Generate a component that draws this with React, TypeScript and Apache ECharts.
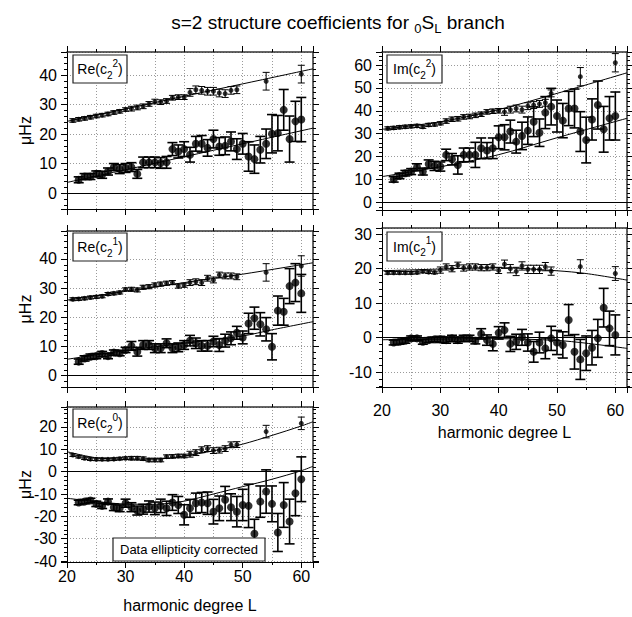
import React, { useEffect, useRef } from "react";
import * as echarts from "echarts";

const FONT = '"Liberation Sans", Arial, Helvetica, sans-serif';

// harmonic degrees
const L_UP = [21, 22, 23, 24, 25, 26, 27, 28, 29, 30, 31, 32, 33, 34, 35, 36, 37, 38, 39, 40, 41, 42, 43, 44, 45, 46, 47, 48, 49, 54, 60];
const L_LOW = [22, 23, 24, 25, 26, 27, 28, 29, 30, 31, 32, 33, 34, 35, 36, 37, 38, 39, 40, 41, 42, 43, 44, 45, 46, 47, 48, 49, 50, 51, 52, 53, 54, 55, 56, 57, 58, 59, 60];

// Re(c2^2)
const RE22_UP = [24.6, 25.0, 25.3, 25.7, 26.1, 26.4, 26.8, 27.3, 27.7, 28.3, 28.6, 29.0, 29.4, 30.2, 31.0, 30.8, 31.2, 32.3, 32.5, 32.5, 34.1, 35.0, 34.8, 34.5, 34.5, 33.9, 33.7, 34.8, 35.0, 37.9, 40.3];
const RE22_UP_ERR = [0.6, 0.6, 0.6, 0.6, 0.6, 0.6, 0.6, 0.6, 0.6, 0.6, 0.8, 0.8, 0.8, 0.8, 0.8, 0.8, 0.8, 0.8, 0.8, 0.8, 1.3, 1.3, 1.3, 1.3, 1.3, 1.3, 1.3, 1.3, 1.3, 3.0, 3.0];
const RE22_LOW = [4.5, 5.6, 5.6, 6.5, 6.2, 7.3, 8.8, 8.1, 8.5, 8.8, 6.5, 10.4, 10.4, 10.4, 10.2, 10.4, 14.9, 14.1, 14.9, 13.0, 16.7, 16.7, 15.3, 18.3, 15.8, 16.0, 17.5, 14.9, 16.7, 12.4, 11.5, 14.7, 16.7, 20.1, 20.3, 28.2, 18.3, 24.3, 24.9];
const RE22_LOW_ERR = [1.0, 1.0, 1.0, 1.0, 1.2, 1.2, 1.2, 1.5, 1.5, 1.5, 1.5, 1.8, 1.8, 1.8, 1.8, 2.0, 2.2, 2.2, 2.5, 2.5, 2.5, 2.8, 2.8, 3.0, 3.0, 3.0, 3.2, 3.5, 3.5, 5.0, 4.8, 4.5, 5.0, 6.5, 6.0, 6.9, 7.8, 6.8, 7.5];
const RE22_TH_L = [20, 30, 40, 50, 62];
const RE22_TH_UP = [24.3, 28.5, 32.8, 37.0, 42.1];
const RE22_TH_LOW = [3.6, 7.9, 12.3, 16.7, 22.0];

// Re(c2^1)
const RE21_UP = [26.2, 26.3, 26.5, 26.8, 27.0, 27.2, 28.0, 28.2, 28.5, 29.6, 29.6, 29.4, 30.3, 30.5, 31.1, 31.4, 31.7, 31.9, 30.7, 31.0, 31.9, 32.2, 31.9, 33.4, 32.8, 34.5, 34.2, 34.2, 33.9, 35.4, 37.6];
const RE21_UP_ERR = [0.5, 0.5, 0.5, 0.5, 0.5, 0.5, 0.5, 0.5, 0.5, 0.5, 0.7, 0.7, 0.7, 0.7, 0.7, 0.7, 0.7, 0.7, 0.7, 0.7, 1.0, 1.0, 1.0, 1.0, 1.0, 1.0, 1.0, 1.0, 1.0, 3.0, 3.5];
const RE21_LOW = [4.8, 5.9, 6.5, 6.7, 7.4, 6.7, 7.9, 7.7, 8.8, 10.2, 8.2, 10.5, 10.5, 9.4, 9.4, 11.1, 9.4, 9.7, 10.5, 12.0, 11.1, 10.2, 10.2, 11.7, 10.5, 12.0, 12.8, 14.7, 13.1, 17.9, 19.7, 17.6, 15.9, 9.9, 22.3, 21.9, 30.7, 31.9, 28.2];
const RE21_LOW_ERR = [0.9, 0.9, 0.9, 0.9, 0.9, 0.9, 0.9, 0.9, 0.9, 1.5, 1.5, 1.5, 1.5, 1.5, 1.5, 1.5, 1.5, 1.5, 1.5, 1.8, 1.8, 1.8, 1.8, 1.8, 2.2, 2.2, 2.2, 2.2, 2.2, 3.5, 3.8, 4.0, 4.0, 4.5, 5.0, 4.6, 6.0, 6.5, 6.5];
const RE21_TH_UP_L = [20, 30, 40, 50, 62];
const RE21_TH_UP = [25.9, 28.9, 31.9, 34.8, 38.7];
const RE21_TH_LOW_L = [20, 30, 40, 50, 55, 62];
const RE21_TH_LOW = [5.6, 8.6, 11.1, 13.6, 15.7, 18.5];

// Re(c2^0)
const RE20_UP = [7.4, 6.7, 6.0, 5.6, 5.5, 5.5, 5.5, 5.6, 5.8, 6.0, 6.0, 6.0, 5.8, 5.2, 5.2, 5.2, 6.7, 6.8, 7.0, 7.0, 7.8, 8.5, 9.8, 10.3, 9.4, 9.6, 10.3, 12.0, 12.1, 17.9, 21.6];
const RE20_UP_ERR = [0.6, 0.6, 0.6, 0.6, 0.6, 0.6, 0.6, 0.6, 0.6, 0.6, 0.8, 0.8, 0.8, 0.8, 0.8, 0.8, 0.8, 0.8, 0.8, 0.8, 1.3, 1.3, 1.3, 1.3, 1.3, 1.3, 1.3, 1.3, 1.3, 2.8, 2.8];
const RE20_LOW = [-13.8, -13.4, -12.9, -14.4, -15.3, -13.4, -15.9, -16.4, -14.1, -15.9, -17.4, -16.8, -15.6, -16.4, -15.3, -16.4, -13.8, -14.9, -19.3, -16.4, -14.1, -13.8, -14.1, -17.9, -16.4, -12.6, -15.9, -17.9, -14.9, -15.3, -27.8, -13.4, -8.9, -14.4, -27.2, -14.9, -22.3, -9.7, -3.4];
const RE20_LOW_ERR = [1.0, 1.0, 1.0, 1.2, 1.2, 1.2, 1.5, 1.5, 1.8, 2.0, 2.0, 2.2, 2.5, 2.8, 3.0, 3.2, 3.5, 3.8, 4.5, 4.0, 4.5, 4.5, 5.0, 5.5, 5.5, 6.0, 6.0, 6.8, 7.0, 9.7, 6.5, 7.0, 9.7, 8.0, 8.5, 10.0, 10.0, 10.0, 10.0];
const RE20_TH_L = [20, 25, 30, 35, 40, 45, 50, 55, 60, 62];
const RE20_TH_UP = [8.9, 6.2, 5.6, 5.6, 7.0, 9.3, 12.3, 16.2, 20.4, 22.3];
const RE20_TH_LOW = [-11.9, -13.4, -14.5, -14.6, -13.2, -10.0, -6.7, -3.4, 0.4, 2.4];

// Im(c2^2)
const IM22_UP = [32.3, 32.5, 32.8, 33.0, 33.2, 33.4, 33.0, 33.8, 34.0, 34.5, 35.5, 36.3, 36.5, 37.3, 37.5, 38.0, 38.5, 39.5, 39.8, 40.0, 39.5, 40.5, 41.0, 40.5, 42.0, 42.5, 43.0, 43.5, 47.6, 54.9, 61.0];
const IM22_UP_ERR = [0.7, 0.7, 0.7, 0.7, 0.7, 0.7, 0.7, 0.7, 0.7, 0.7, 1.0, 1.0, 1.0, 1.0, 1.0, 1.0, 1.0, 1.0, 1.0, 1.0, 1.5, 1.5, 1.5, 1.5, 1.5, 1.5, 1.5, 1.5, 1.5, 4.0, 4.0];
const IM22_LOW = [10.0, 11.5, 12.7, 13.4, 15.3, 13.4, 16.7, 15.9, 15.6, 20.7, 18.8, 16.3, 20.7, 20.7, 20.7, 23.6, 22.6, 23.6, 28.4, 28.4, 30.9, 26.5, 29.0, 31.3, 35.2, 30.4, 39.2, 41.8, 37.7, 35.7, 41.0, 41.0, 30.9, 27.2, 36.2, 42.5, 31.9, 36.7, 37.7];
const IM22_LOW_ERR = [1.2, 1.2, 1.2, 1.3, 1.5, 1.5, 1.8, 2.0, 2.0, 2.5, 2.5, 4.0, 3.0, 3.0, 5.5, 4.5, 3.5, 4.5, 5.0, 5.5, 5.0, 5.0, 6.0, 6.0, 6.5, 6.0, 7.0, 8.0, 7.0, 7.5, 7.5, 8.5, 8.7, 10.0, 9.0, 10.5, 10.0, 9.5, 10.5];
const IM22_TH_L = [20, 30, 40, 50, 62];
const IM22_TH_UP = [31.9, 35.2, 40.5, 47.6, 56.6];
const IM22_TH_LOW = [11.2, 15.5, 20.8, 28.2, 36.7];

// Im(c2^1)
const IM21_UP = [18.8, 18.8, 18.8, 18.8, 18.8, 18.9, 19.2, 19.0, 18.9, 19.6, 20.5, 20.0, 21.0, 20.2, 20.5, 20.5, 20.3, 20.3, 20.5, 19.5, 21.3, 20.0, 19.2, 20.8, 19.8, 19.8, 19.8, 20.6, 19.3, 20.6, 18.6];
const IM21_UP_ERR = [0.4, 0.4, 0.4, 0.4, 0.4, 0.4, 0.4, 0.4, 0.4, 0.9, 0.9, 0.9, 0.9, 0.9, 0.9, 0.9, 0.9, 0.9, 0.9, 0.9, 1.2, 1.2, 1.2, 1.2, 1.2, 1.2, 1.2, 1.2, 1.2, 2.0, 2.0];
const IM21_LOW = [-1.4, -1.2, -0.9, -0.2, -0.2, -1.2, -0.7, -0.5, -0.5, -0.7, -0.2, -0.7, -0.2, -0.2, -0.9, 1.1, -0.7, -1.8, 1.4, 2.2, -1.8, -1.2, 0.1, -1.4, -4.1, -1.4, -3.1, -0.2, -1.4, -2.1, 5.1, -4.1, -6.3, -4.5, -2.9, -0.2, 8.7, 2.7, 0.8];
const IM21_LOW_ERR = [0.7, 0.7, 0.7, 0.7, 0.7, 0.7, 0.7, 0.7, 0.9, 0.9, 0.9, 0.9, 0.9, 0.9, 0.9, 1.5, 1.5, 2.0, 1.8, 2.1, 2.2, 2.2, 2.3, 2.5, 3.0, 3.0, 3.0, 3.5, 3.5, 3.8, 4.5, 5.0, 5.8, 5.0, 5.0, 5.5, 5.6, 5.0, 5.8];
const IM21_TH_L = [20, 30, 40, 50, 55, 62];
const IM21_TH_UP = [19.4, 19.9, 20.3, 19.4, 18.6, 16.7];
const IM21_TH_LOW = [-0.6, -0.4, -0.3, -0.8, -1.6, -3.1];

// y ranges per panel
const Y_RANGES = [
  [-5.4, 47.8],
  [-3.9, 49.6],
  [-40.4, 28.9],
  [-3.4, 65.7],
  [-14.3, 31.8],
];

const PANEL_DATA = [
  { up: RE22_UP, upErr: RE22_UP_ERR, low: RE22_LOW, lowErr: RE22_LOW_ERR, thUpL: RE22_TH_L, thUp: RE22_TH_UP, thLowL: RE22_TH_L, thLow: RE22_TH_LOW, label: "Re", m: "2" },
  { up: RE21_UP, upErr: RE21_UP_ERR, low: RE21_LOW, lowErr: RE21_LOW_ERR, thUpL: RE21_TH_UP_L, thUp: RE21_TH_UP, thLowL: RE21_TH_LOW_L, thLow: RE21_TH_LOW, label: "Re", m: "1" },
  { up: RE20_UP, upErr: RE20_UP_ERR, low: RE20_LOW, lowErr: RE20_LOW_ERR, thUpL: RE20_TH_L, thUp: RE20_TH_UP, thLowL: RE20_TH_L, thLow: RE20_TH_LOW, label: "Re", m: "0" },
  { up: IM22_UP, upErr: IM22_UP_ERR, low: IM22_LOW, lowErr: IM22_LOW_ERR, thUpL: IM22_TH_L, thUp: IM22_TH_UP, thLowL: IM22_TH_L, thLow: IM22_TH_LOW, label: "Im", m: "2" },
  { up: IM21_UP, upErr: IM21_UP_ERR, low: IM21_LOW, lowErr: IM21_LOW_ERR, thUpL: IM21_TH_L, thUp: IM21_TH_UP, thLowL: IM21_TH_L, thLow: IM21_TH_LOW, label: "Im", m: "1" },
];

// layout (pixels)
const GRIDS = [
  { left: 67, top: 52, width: 246, height: 157 },
  { left: 67, top: 231, width: 246, height: 156 },
  { left: 67, top: 407, width: 246, height: 155 },
  { left: 382, top: 52, width: 245, height: 158 },
  { left: 382, top: 228, width: 245, height: 159 },
];
const LAYOUT = [
  { showX: false, yName: true, box: [73, 55, 54, 28] },
  { showX: false, yName: true, box: [73, 233, 54, 28] },
  { showX: true, yName: true, box: [73, 409, 54, 28], labelMargin: 6, nameGap: 35 },
  { showX: false, yName: false, box: [387, 55, 55, 28] },
  { showX: true, yName: false, box: [387, 232, 55, 29], labelMargin: 15, nameGap: 37 },
];

const GRID_LINE = { color: "#9a9a9a", width: 1, type: [1, 2] as any };

function errItem(cap: number, lw: number) {
  return (params: any, api: any) => {
    const x = api.value(0);
    const lo = api.value(1);
    const hi = api.value(2);
    const p1 = api.coord([x, hi]);
    const p2 = api.coord([x, lo]);
    const s = { stroke: "#000", lineWidth: lw };
    return {
      type: "group",
      children: [
        { type: "line", shape: { x1: p1[0], y1: p1[1], x2: p2[0], y2: p2[1] }, style: s },
        { type: "line", shape: { x1: p1[0] - cap / 2, y1: p1[1], x2: p1[0] + cap / 2, y2: p1[1] }, style: s },
        { type: "line", shape: { x1: p2[0] - cap / 2, y1: p2[1], x2: p2[0] + cap / 2, y2: p2[1] }, style: s },
      ],
    };
  };
}

function buildOption() {
  const xAxis: any[] = [];
  const yAxis: any[] = [];
  const series: any[] = [];
  const graphic: any[] = [];

  GRIDS.forEach((g, i) => {
    const lay = LAYOUT[i];
    const [ymin, ymax] = Y_RANGES[i];
    const tick = { show: true, length: 6, lineStyle: { color: "#000", width: 1 } };
    const minorX = { show: true, splitNumber: 2, length: 3, lineStyle: { color: "#000", width: 1 } };
    const minorY = { show: true, splitNumber: 5, length: 3, lineStyle: { color: "#000", width: 1 } };
    xAxis.push({
      type: "value", gridIndex: i, min: 20, max: 62, position: "bottom",
      axisLine: { show: true, onZero: false, lineStyle: { color: "#000", width: 1 } },
      axisTick: tick, minorTick: minorX,
      splitLine: { show: true, lineStyle: GRID_LINE },
      minorSplitLine: { show: true, lineStyle: GRID_LINE },
      axisLabel: { show: lay.showX, margin: lay.labelMargin || 6, fontSize: 16, color: "#000", fontFamily: FONT, showMaxLabel: false },
      name: lay.showX ? "harmonic degree L" : "",
      nameLocation: "middle", nameGap: lay.nameGap || 30,
      nameMoveOverlap: false,
      nameTextStyle: { fontSize: 16, color: "#000", fontFamily: FONT },
    });
    xAxis.push({
      type: "value", gridIndex: i, min: 20, max: 62, position: "top",
      axisLine: { show: true, onZero: false, lineStyle: { color: "#333", width: 1.5 } },
      axisTick: tick, minorTick: minorX,
      splitLine: { show: false }, axisLabel: { show: false },
    });
    yAxis.push({
      type: "value", gridIndex: i, min: ymin, max: ymax, position: "left",
      axisLine: { show: true, onZero: false, lineStyle: { color: "#000", width: 1 } },
      axisTick: tick, minorTick: minorY,
      splitLine: { show: true, lineStyle: GRID_LINE },
      axisLabel: { show: true, margin: 10, fontSize: 16, color: "#000", fontFamily: FONT, showMinLabel: false, showMaxLabel: false },
      name: lay.yName ? "μHz" : "",
      nameLocation: "middle", nameGap: 34, nameRotate: 90,
      nameMoveOverlap: false,
      nameTextStyle: { fontSize: 16, color: "#000", fontFamily: FONT },
    });
    yAxis.push({
      type: "value", gridIndex: i, min: ymin, max: ymax, position: "right",
      axisLine: { show: true, onZero: false, lineStyle: { color: "#333", width: 1.5 } },
      axisTick: tick, minorTick: minorY,
      splitLine: { show: false }, axisLabel: { show: false },
    });

    const d = PANEL_DATA[i];
    const xi = 2 * i;
    const yi = 2 * i;
    series.push({
      type: "line", xAxisIndex: xi, yAxisIndex: yi, silent: true,
      data: d.thUpL.map((l, j) => [l, d.thUp[j]]),
      symbol: "none", smooth: 0.3, lineStyle: { color: "#000", width: 1 }, z: 3,
      markLine: {
        silent: true, symbol: "none", label: { show: false },
        lineStyle: { color: "#000", width: 1, type: "solid" },
        data: [{ yAxis: 0 }],
      },
    });
    series.push({
      type: "line", xAxisIndex: xi, yAxisIndex: yi, silent: true,
      data: d.thLowL.map((l, j) => [l, d.thLow[j]]),
      symbol: "none", smooth: 0.3, lineStyle: { color: "#000", width: 1 }, z: 3,
    });
    series.push({
      type: "custom", xAxisIndex: xi, yAxisIndex: yi, silent: true, clip: true,
      data: L_UP.map((l, j) => [l, d.up[j] - d.upErr[j], d.up[j] + d.upErr[j]]),
      encode: { x: 0, y: [1, 2] }, renderItem: errItem(7, 1), z: 4,
    });
    series.push({
      type: "scatter", xAxisIndex: xi, yAxisIndex: yi, silent: true,
      data: L_UP.map((l, j) => [l, d.up[j]]),
      symbolSize: 5, itemStyle: { color: "#000" }, z: 5,
    });
    series.push({
      type: "custom", xAxisIndex: xi, yAxisIndex: yi, silent: true, clip: true,
      data: L_LOW.map((l, j) => [l, d.low[j] - d.lowErr[j], d.low[j] + d.lowErr[j]]),
      encode: { x: 0, y: [1, 2] }, renderItem: errItem(10, 1.6), z: 4,
    });
    series.push({
      type: "scatter", xAxisIndex: xi, yAxisIndex: yi, silent: true,
      data: L_LOW.map((l, j) => [l, d.low[j]]),
      symbolSize: 8, itemStyle: { color: "#000" }, z: 5,
    });

    const [bx, by, bw, bh] = lay.box;
    graphic.push({
      type: "rect", z: 100, silent: true,
      shape: { x: bx, y: by, width: bw, height: bh },
      style: { fill: "#fff", stroke: "#222", lineWidth: 1.2 },
    });
    graphic.push({
      type: "text", z: 101, silent: true, x: bx + bw / 2, y: by + bh / 2,
      style: {
        text: `{b|${d.label}(c}{sub|2}{sup|${d.m}}{b|)}`,
        align: "center", verticalAlign: "middle", textAlign: "center", textVerticalAlign: "middle",
        fill: "#000",
        rich: {
          b: { fontSize: 14, lineHeight: 22, fontFamily: FONT, fill: "#000" },
          sub: { fontSize: 10, lineHeight: 10, verticalAlign: "bottom", fontFamily: FONT, fill: "#000" },
          sup: { fontSize: 10, lineHeight: 10, verticalAlign: "top", fontFamily: FONT, fill: "#000" },
        },
      },
    });
  });

  // ellipticity note
  graphic.push({
    type: "rect", z: 100, silent: true,
    shape: { x: 113, y: 538, width: 152, height: 23 },
    style: { fill: "#fff", stroke: "#222", lineWidth: 1.2 },
  });
  graphic.push({
    type: "text", z: 101, silent: true, x: 189, y: 549.5,
    style: {
      text: "Data ellipticity corrected", fontSize: 13, fontFamily: FONT, fill: "#000",
      align: "center", verticalAlign: "middle", textAlign: "center", textVerticalAlign: "middle",
    },
  });
  // main title
  graphic.push({
    type: "text", z: 101, silent: true, x: 338, y: 22,
    style: {
      text: "{b|s=2 structure coefficients for }{sub|0}{b|S}{sub|L}{b| branch}",
      align: "center", verticalAlign: "middle", textAlign: "center", textVerticalAlign: "middle",
      fill: "#000",
      rich: {
        b: { fontSize: 19, lineHeight: 26, fontFamily: FONT, fill: "#000" },
        sub: { fontSize: 13, lineHeight: 12, verticalAlign: "bottom", fontFamily: FONT, fill: "#000" },
      },
    },
  });

  return {
    animation: false,
    backgroundColor: "#fff",
    grid: GRIDS.map((g) => ({ ...g, show: false, containLabel: false })),
    xAxis,
    yAxis,
    series,
    graphic,
  };
}

export default function App() {
  const ref = useRef<HTMLDivElement>(null);
  useEffect(() => {
    if (!ref.current) return;
    const chart = echarts.init(ref.current, null, { renderer: "svg", width: 632, height: 617 });
    chart.setOption(buildOption() as any);
    return () => chart.dispose();
  }, []);
  return (
    <div
      ref={ref}
      style={{ position: "absolute", left: 0, top: 0, width: 632, height: 617, background: "#fff" }}
    />
  );
}
